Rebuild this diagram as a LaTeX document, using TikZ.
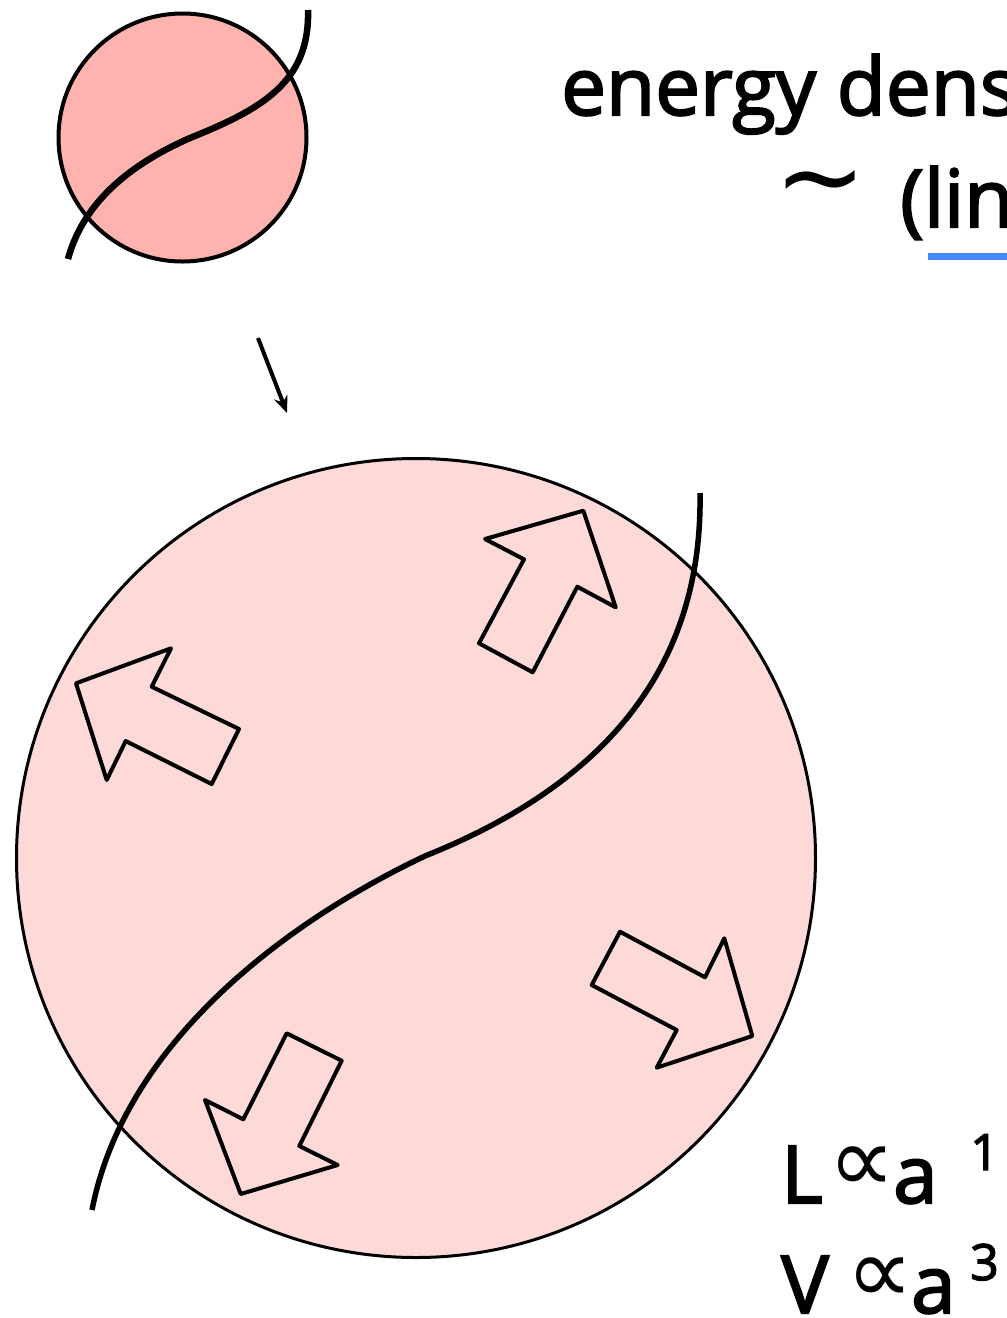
\documentclass[tikz,border=0pt]{standalone}
\usepackage{fontspec}
\setmainfont{Open Sans}
\newfontfamily\gfont{Open Sans}[FakeBold=2.5]
\newfontfamily\symfont{DejaVu Sans}
\usetikzlibrary{arrows.meta}
\definecolor{smallfill}{RGB}{255,179,174}
\definecolor{bigfill}{RGB}{253,217,216}
\definecolor{linkblue}{RGB}{68,138,255}
\tikzset{
  blockarrow/.style={draw=black,line width=4pt,line join=round,fill=bigfill},
  stringline/.style={draw=black,line cap=butt},
  bigtext/.style={inner sep=0pt,font=\gfont\fontsize{80}{96}\selectfont},
  symtext/.style={inner sep=0pt},
  proptext/.style={inner sep=0pt,anchor=base,font=\symfont\fontsize{94}{100}\selectfont},
  suptext/.style={inner sep=0pt,anchor=base west,font=\gfont\fontsize{50}{60}\selectfont},
}
\begin{document}
\begin{tikzpicture}[x=1pt,y=-1pt]
\useasboundingbox (0,0) rectangle (1007,1318);
\clip (0,0) rectangle (1007,1318);

% small circle with string
\node[circle,draw=black,line width=4pt,fill=smallfill,minimum size=248pt,inner sep=0pt] (small) at (182.5,137.5) {};
\coordinate (s0) at (68,259);
\coordinate (smid) at (190,138);
\coordinate (s1) at (308,10);
\draw[stringline,line width=6.5pt] (s0) .. controls (85,196) and (140,160) .. (smid)
  .. controls (262,109) and (310,82) .. (s1);

% arrow between
\coordinate (a0) at (258,338);
\coordinate (a1) at (287,413);
\draw[line width=4pt,-{Stealth[length=17pt,width=14pt]}] (a0) -- (a1);

% big circle
\node[circle,draw=black,line width=3pt,fill=bigfill,minimum size=799pt,inner sep=0pt] (big) at (416,858) {};

% block arrows
\draw[blockarrow] (583.3,510.7) -- (615.7,607.3) -- (577.3,586.7) -- (532.7,672.3) -- (479,643.3) -- (524,559.3) -- (485,539) -- cycle;
\draw[blockarrow] (76,683.3) -- (171,648.3) -- (151.7,686.7) -- (239,729) -- (211.7,784) -- (125.7,741) -- (106.7,780) -- cycle;
\draw[blockarrow] (752.3,1036) -- (724.3,938.3) -- (705,977.3) -- (620,931.7) -- (591.7,985) -- (676.7,1030) -- (656.7,1067.7) -- cycle;
\draw[blockarrow] (240.7,1194) -- (205,1100) -- (243.3,1119.3) -- (286.7,1033.3) -- (341.7,1060.7) -- (299.3,1146) -- (337.7,1165) -- cycle;

% big string
\coordinate (b0) at (92,1210);
\coordinate (bmid) at (425,856);
\coordinate (b1) at (700,493);
\draw[stringline,line width=5.5pt] (b0) .. controls (125,1040) and (290,920) .. (bmid)
  .. controls (590,790) and (703,680) .. (b1);

% top text
\node[bigtext,anchor=base west] (t1) at (561,115) {energy dens};
\node[symtext,font=\symfont\fontsize{110}{120}\selectfont] (tilde) at (821,193) {∼};
\node[bigtext,anchor=base west] (t2) at (900,227) {(lin};
\coordinate (u0) at (928,256.5);
\coordinate (u1) at (1010,256.5);
\draw[linkblue,line width=7pt] (u0) -- (u1);

% bottom text
\node[bigtext,anchor=base west] (L) at (781,1203) {L};
\node[proptext] (p1) at (862,1192) {\makebox[0pt]{∝}};
\node[bigtext,anchor=base west] (a1t) at (893,1203) {a};
\node[suptext] (e1) at (970,1170) {1};
\node[bigtext,anchor=base west] (V) at (781,1313) {V};
\node[proptext] (p2) at (880,1303) {\makebox[0pt]{∝}};
\node[bigtext,anchor=base west] (a2t) at (911,1313) {a};
\node[suptext] (e2) at (970,1280) {3};
\end{tikzpicture}
\end{document}
